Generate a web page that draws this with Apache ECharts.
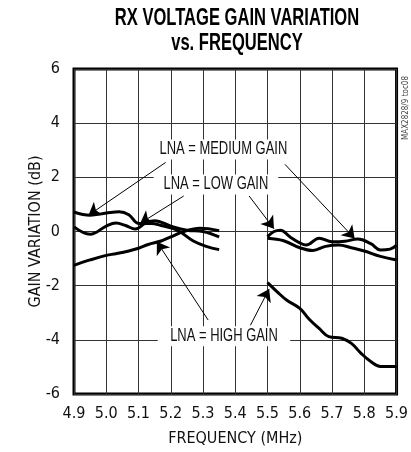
<!DOCTYPE html>
<html><head><meta charset="utf-8">
<script src="https://cdn.jsdelivr.net/npm/echarts@6/dist/echarts.min.js"></script>
<style>html,body{margin:0;padding:0;background:#fff}#c{width:411px;height:452px}</style>
</head><body><div id="c"></div>
<script>
var FONT = "'DejaVu Sans Condensed','Liberation Sans Narrow',sans-serif";
var FONT2 = "'Liberation Sans',Arial,sans-serif";

var medFreqA = [4.9,4.95,5.0,5.04,5.07,5.1,5.14,5.17,5.22,5.27,5.31,5.35];
var medValA  = [0.72,0.6,0.68,0.73,0.62,0.3,0.3,0.22,0.05,-0.35,-0.55,-0.67];
var lowFreqA = [4.9,4.95,5.0,5.03,5.06,5.09,5.12,5.15,5.2,5.25,5.3,5.35];
var lowValA  = [0.17,-0.1,0.2,0.31,0.22,0.09,0.3,0.4,0.2,0.05,0.0,-0.2];
var highFreqA = [4.9,4.95,5.0,5.03,5.07,5.1,5.13,5.17,5.2,5.24,5.29,5.35];
var highValA  = [-1.25,-1.05,-0.88,-0.82,-0.72,-0.62,-0.48,-0.35,-0.2,0.0,0.12,0.03];

var lowFreqB = [5.5,5.52,5.54,5.57,5.6,5.62,5.66,5.7,5.74,5.78,5.82,5.85,5.88,5.9];
var lowValB  = [-0.19,0.0,0.05,-0.2,-0.42,-0.5,-0.25,-0.38,-0.36,-0.28,-0.45,-0.68,-0.65,-0.5];
var medFreqB = [5.5,5.55,5.6,5.64,5.68,5.72,5.76,5.8,5.85,5.9];
var medValB  = [-0.25,-0.34,-0.6,-0.7,-0.55,-0.5,-0.6,-0.72,-0.92,-1.05];
var highFreqB = [5.5,5.53,5.56,5.6,5.63,5.66,5.69,5.73,5.76,5.79,5.82,5.85,5.9];
var highValB  = [-1.89,-2.23,-2.54,-2.84,-3.25,-3.58,-3.88,-3.94,-4.13,-4.5,-4.8,-4.98,-4.98];

var labelTexts = ['LNA = MEDIUM GAIN','LNA = LOW GAIN','LNA = HIGH GAIN'];
var labelPos = [[5.363,3.03],[5.34,1.74],[5.365,-3.87]];
var arrows = [
  [[5.184,2.55],[4.945,0.6]],
  [[5.554,2.48],[5.77,-0.26]],
  [[5.24,1.31],[5.105,0.3]],
  [[5.443,1.31],[5.52,0.1]],
  [[5.316,-3.27],[5.157,-0.38]],
  [[5.447,-3.46],[5.505,-2.12]]
];

function zip(a,b){return a.map(function(v,i){return [v,b[i]];});}
function curve(f,v){
  return {type:'line',data:zip(f,v),smooth:0.4,symbol:'none',
    lineStyle:{color:'#000',width:3},z:5,silent:true};
}
var chart = echarts.init(document.getElementById('c'),null,{renderer:'canvas'});
chart.setOption({
  animation:false,
  grid:{left:74,right:10,top:69,bottom:56,show:true,borderColor:'#000',borderWidth:3,backgroundColor:'transparent'},
  xAxis:{type:'value',min:4.9,max:5.9,interval:0.1,
    name:'FREQUENCY (MHz)',nameLocation:'middle',nameGap:37,nameMoveOverlap:false,
    nameTextStyle:{fontFamily:FONT,fontSize:16,color:'#111'},
    axisLine:{show:false},axisTick:{show:false},
    axisLabel:{fontFamily:FONT,fontSize:16,color:'#111',margin:12,formatter:function(v){return v.toFixed(1);}},
    splitLine:{show:true,lineStyle:{color:'#333',width:1}}},
  yAxis:{type:'value',min:-6,max:6,interval:2,
    name:'GAIN VARIATION (dB)',nameLocation:'middle',nameGap:30,nameMoveOverlap:false,
    nameTextStyle:{fontFamily:FONT,fontSize:16,color:'#111'},
    axisLine:{show:false},axisTick:{show:false},
    axisLabel:{fontFamily:FONT,fontSize:16,color:'#111',margin:14},
    splitLine:{show:true,lineStyle:{color:'#333',width:1}}},
  series:[
    curve(medFreqA,medValA),curve(lowFreqA,lowValA),curve(highFreqA,highValA),
    curve(lowFreqB,lowValB),curve(medFreqB,medValB),curve(highFreqB,highValB),
    {type:'line',data:[],symbol:'none',silent:true,z:6,
     markLine:{silent:true,symbol:['none','arrow'],symbolSize:12,
       label:{show:false},lineStyle:{color:'#000',width:1,type:'solid'},
       itemStyle:{color:'#000'},
       data:arrows.map(function(a){return [{coord:a[0],symbol:'none'},{coord:a[1],symbol:'arrow',symbolSize:12}];})}}
  ]
});

var gfx = [];
gfx.push({type:'text',x:237,y:19,scaleX:0.72,z:100,
  style:{text:'RX VOLTAGE GAIN VARIATION',x:0,y:0,font:'bold 23px '+FONT2,
    align:'center',verticalAlign:'middle',textAlign:'center',textVerticalAlign:'middle',fill:'#000'}});
gfx.push({type:'text',x:237,y:44,scaleX:0.72,z:100,
  style:{text:'vs. FREQUENCY',x:0,y:0,font:'bold 23px '+FONT2,
    align:'center',verticalAlign:'middle',textAlign:'center',textVerticalAlign:'middle',fill:'#000'}});
gfx.push({type:'text',x:406,y:108,rotation:Math.PI/2,z:100,
  style:{text:'MAX2828/9 toc08',x:0,y:0,font:'8px '+FONT,
    align:'center',verticalAlign:'middle',textAlign:'center',textVerticalAlign:'middle',fill:'#444'}});
labelTexts.forEach(function(t,i){
  var p = chart.convertToPixel({gridIndex:0},labelPos[i]);
  var w = t.length*7.9+14;
  gfx.push({type:'rect',x:p[0]-w/2,y:p[1]-10,z:90,shape:{width:w,height:20},style:{fill:'#fff'}});
  gfx.push({type:'text',x:p[0],y:p[1],scaleX:0.72,z:100,
    style:{text:t,x:0,y:0,font:'18px '+FONT2,align:'center',verticalAlign:'middle',
      textAlign:'center',textVerticalAlign:'middle',fill:'#111'}});
});
chart.setOption({graphic:gfx});
</script></body></html>
